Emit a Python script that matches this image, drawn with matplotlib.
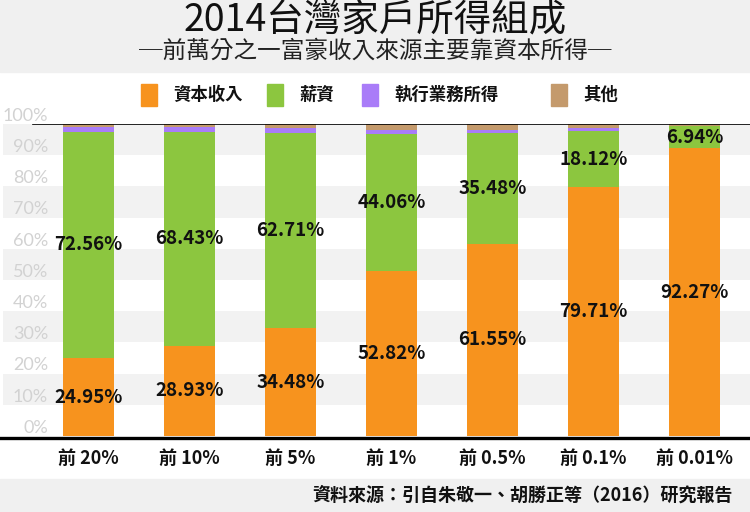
import matplotlib
matplotlib.use("Agg")
import matplotlib.pyplot as plt
from matplotlib.patches import Rectangle

plt.rcParams["font.family"] = ["Noto Sans CJK TC", "DejaVu Sans"]

# data
groups = ["前 20%", "前 10%", "前 5%", "前 1%", "前 0.5%", "前 0.1%", "前 0.01%"]
capital = [24.95, 28.93, 34.48, 52.82, 61.55, 79.71, 92.27]
wages = [72.56, 68.43, 62.71, 44.06, 35.48, 18.12, 6.94]
business = [1.4, 1.6, 1.6, 1.3, 1.0, 1.0, 0.3]
other = [1.1, 1.0, 1.2, 1.8, 2.0, 1.2, 0.5]
yticks = [0, 10, 20, 30, 40, 50, 60, 70, 80, 90, 100]

series_names = ["資本收入", "薪資", "執行業務所得", "其他"]
colors = ["#f7931e", "#8cc63f", "#a97cf8", "#c49a6c"]

W, H = 750, 512


def fx(px):
    return px / W


def fy(py):
    return 1 - py / H


fig = plt.figure(figsize=(7.5, 5.12), dpi=100)
fig.patch.set_facecolor("white")

# header / footer bands
fig.patches.append(Rectangle((0, fy(72)), 1, 72 / H, transform=fig.transFigure,
                             color="#f0f0f0", zorder=0))
fig.patches.append(Rectangle((0, 0), 1, (H - 479) / H, transform=fig.transFigure,
                             color="#f0f0f0", zorder=0))

fig.text(0.5, fy(21), "2014台灣家戶所得組成", ha="center", va="center",
         fontsize=27, color="#111111")
fig.text(0.5, fy(51), "─前萬分之一富豪收入來源主要靠資本所得─", ha="center", va="center",
         fontsize=17, color="#222222")

# legend
leg_x = [141, 267, 362, 551]
for x0, name, c in zip(leg_x, series_names, colors):
    fig.patches.append(Rectangle((fx(x0), fy(106)), 16 / W, 22 / H,
                                 transform=fig.transFigure, color=c))
    fig.text(fx(x0 + 32), fy(95), name, ha="left", va="center",
             fontsize=12.5, fontweight="bold", color="#111111")

# plot area
ax = fig.add_axes([0, fy(436), 1, 312 / H])
ax.set_xlim((0 - 88.5) / 101, (750 - 88.5) / 101)
ax.set_ylim(0, 100)
for s in ax.spines.values():
    s.set_visible(False)
ax.set_yticks([])

for lo in [10, 30, 50, 70, 90]:
    ax.axhspan(lo, lo + 10, xmin=3 / W, xmax=1, color="#f2f2f2", zorder=0, lw=0)

for v in yticks:
    ax.text((48 - 88.5) / 101, v + 2.6, f"{v}%", ha="right", va="center",
            fontsize=13, color="#d2d2d2", family=["Lato", "DejaVu Sans"])

x = list(range(len(groups)))
bottom = [0] * len(groups)
for vals, c in zip([capital, wages, business, other], colors):
    ax.bar(x, vals, width=0.505, bottom=bottom, color=c, zorder=2)
    bottom = [b + v for b, v in zip(bottom, vals)]

for i in x:
    ax.text(i, capital[i] / 2, f"{capital[i]:.2f}%", ha="center", va="center",
            fontsize=13.5, fontweight="bold", color="#111111", zorder=3)
    ax.text(i, capital[i] + wages[i] / 2, f"{wages[i]:.2f}%", ha="center", va="center",
            fontsize=13.5, fontweight="bold", color="#111111", zorder=3)

ax.axhline(100, xmin=33 / W, xmax=1, color="black", lw=1.2, zorder=4)
ax.axhline(-0.5, color="black", lw=2.4, zorder=4, clip_on=False)

ax.set_xticks(x)
ax.set_xticklabels(groups, fontsize=13, fontweight="bold", color="#111111")
ax.tick_params(axis="x", length=0, pad=9)

fig.text(fx(733), fy(495), "資料來源：引自朱敬一、胡勝正等（2016）研究報告",
         ha="right", va="center", fontsize=13, fontweight="bold", color="#111111")

fig.savefig("out.png", dpi=100)
